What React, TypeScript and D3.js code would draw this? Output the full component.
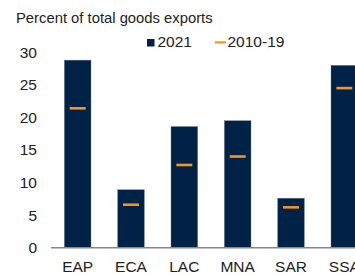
import React, { useRef, useEffect } from "react";
import * as d3 from "d3";

const regions = ["EAP", "ECA", "LAC", "MNA", "SAR", "SSA"];
const share2021 = [28.8, 8.9, 18.6, 19.5, 7.6, 28.0];
const avg2010_19 = [21.4, 6.6, 12.7, 14.0, 6.2, 24.5];
const yTicks = [0, 5, 10, 15, 20, 25, 30];

const NAVY = "#002247";
const ORANGE = "#f7931e";
const FONT = "Liberation Sans, Arial, sans-serif";

export default function App() {
  const ref = useRef<SVGSVGElement>(null);

  useEffect(() => {
    const svg = d3.select(ref.current);
    svg.selectAll("*").remove();

    const x = d3
      .scaleBand()
      .domain(regions)
      .range([51, 371])
      .paddingInner(0.5)
      .paddingOuter(0.25);
    const y = d3.scaleLinear().domain([0, 30]).range([247.7, 52.3]);

    // title
    svg
      .append("text")
      .attr("x", 16)
      .attr("y", 23)
      .attr("font-size", 14.8)
      .attr("fill", "#222")
      .text("Percent of total goods exports");

    // legend
    const lg = svg.append("g").attr("font-size", 15.5).attr("fill", "#222");
    lg.append("rect").attr("x", 147).attr("y", 39).attr("width", 7.5).attr("height", 7.5).attr("fill", NAVY);
    lg.append("text").attr("x", 157.5).attr("y", 46.7).text("2021");
    lg.append("rect").attr("x", 215).attr("y", 41.3).attr("width", 11).attr("height", 2.2).attr("fill", ORANGE);
    lg.append("text").attr("x", 227.5).attr("y", 46.7).text("2010-19");

    // y tick labels
    svg
      .append("g")
      .selectAll("text")
      .data(yTicks)
      .enter()
      .append("text")
      .attr("x", 37)
      .attr("y", (d) => y(d))
      .attr("dy", "0.35em")
      .attr("text-anchor", "end")
      .attr("font-size", 15.5)
      .attr("fill", "#222")
      .text((d) => d);

    // bars
    svg
      .append("g")
      .selectAll("rect")
      .data(regions)
      .enter()
      .append("rect")
      .attr("x", (d) => x(d)!)
      .attr("y", (d, i) => y(share2021[i]))
      .attr("width", x.bandwidth())
      .attr("height", (d, i) => y(0) - y(share2021[i]))
      .attr("fill", NAVY)
      .attr("stroke", "#6d7f96")
      .attr("stroke-width", 0.4);

    // 2010-19 markers
    const dashW = 16;
    svg
      .append("g")
      .selectAll("rect")
      .data(regions)
      .enter()
      .append("rect")
      .attr("x", (d) => x(d)! + x.bandwidth() / 2 - dashW / 2)
      .attr("y", (d, i) => y(avg2010_19[i]) - 1.3)
      .attr("width", dashW)
      .attr("height", 2.6)
      .attr("fill", ORANGE);

    // baseline
    svg
      .append("line")
      .attr("x1", 51)
      .attr("x2", 355)
      .attr("y1", y(0))
      .attr("y2", y(0))
      .attr("stroke", "#888")
      .attr("stroke-width", 1.5);

    // x labels
    svg
      .append("g")
      .selectAll("text")
      .data(regions)
      .enter()
      .append("text")
      .attr("x", (d) => x(d)! + x.bandwidth() / 2)
      .attr("y", 271.5)
      .attr("text-anchor", "middle")
      .attr("font-size", 15.5)
      .attr("fill", "#222")
      .text((d) => d);
  }, []);

  return (
    <svg
      ref={ref}
      width={355}
      height={276}
      style={{ position: "absolute", left: 0, top: 0, fontFamily: FONT, background: "#fff" }}
    />
  );
}
